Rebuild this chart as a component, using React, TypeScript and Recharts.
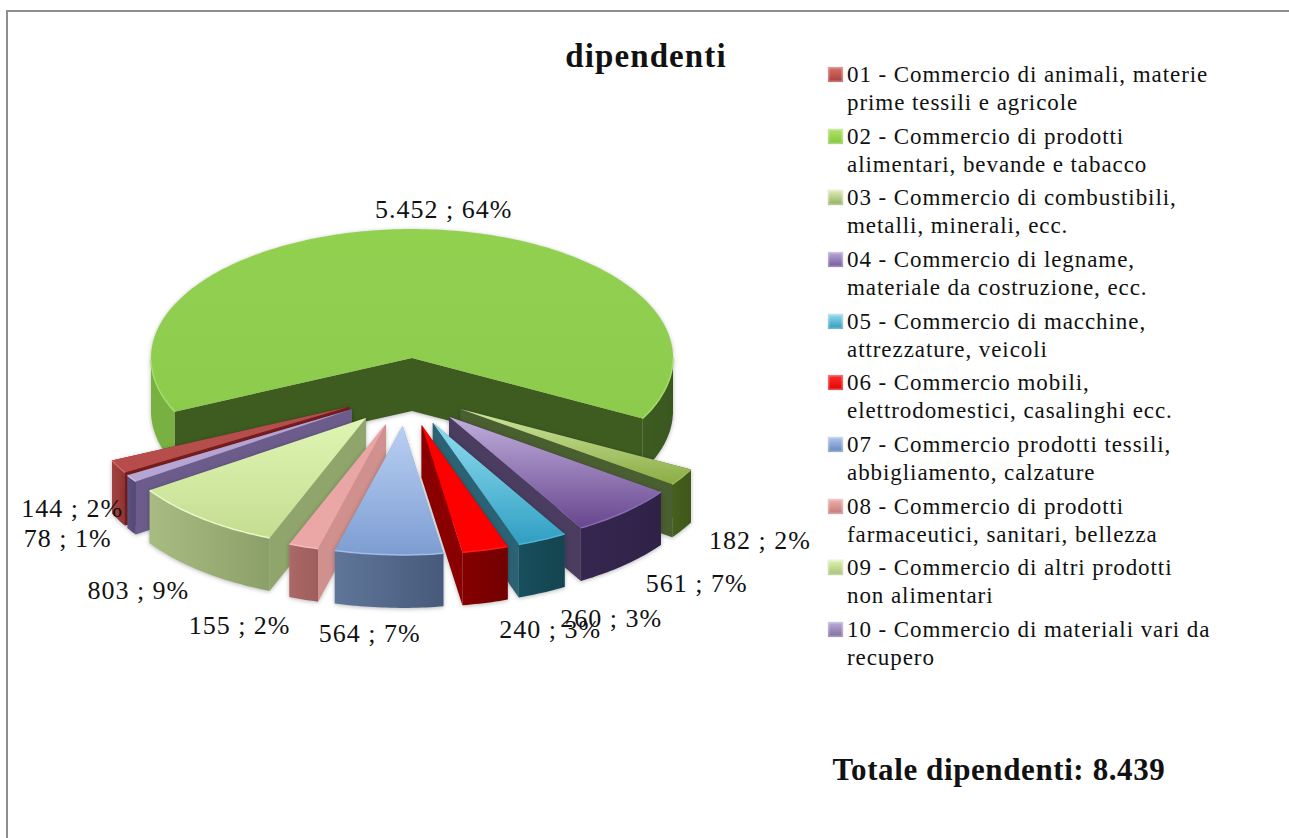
import React from 'react';
import { PieChart, Pie, Legend } from 'recharts';

// ---------- data ----------
const CODES = ['01', '02', '03', '04', '05', '06', '07', '08', '09', '10'];
const VALUES = [144, 5452, 182, 561, 260, 240, 564, 155, 803, 78];
const PERCENT_LABELS = [2, 64, 2, 7, 3, 3, 7, 2, 9, 1];
const LEGEND_LINES = [
  ['01 - Commercio di animali, materie', 'prime tessili e agricole'],
  ['02 - Commercio di prodotti', 'alimentari, bevande e tabacco'],
  ['03 - Commercio di combustibili,', 'metalli, minerali, ecc.'],
  ['04 - Commercio di legname,', 'materiale da costruzione, ecc.'],
  ['05 - Commercio di macchine,', 'attrezzature, veicoli'],
  ['06 - Commercio mobili,', 'elettrodomestici, casalinghi ecc.'],
  ['07 - Commercio prodotti tessili,', 'abbigliamento, calzature'],
  ['08 - Commercio di prodotti', 'farmaceutici, sanitari, bellezza'],
  ['09 - Commercio di altri prodotti', 'non alimentari'],
  ['10 - Commercio di materiali vari da', 'recupero'],
];
const TITLE = 'dipendenti';
const TOTAL_TEXT = 'Totale dipendenti: 8.439';

// ---------- styling ----------
type Look = { top: [string, string]; wall: [string, string]; face: string; rim: string; swatch: [string, string] };
const LOOKS: Record<string, Look> = {
  '01': { top: ['#b0504e', '#b84c4a'], wall: ['#a34341', '#8e3432'], face: '#7a1e1c', rim: '#c96a68', swatch: ['#d9706c', '#a83f3c'] },
  '02': { top: ['#92d050', '#8dcb4d'], wall: ['#3d5c20', '#3a5720'], face: '#3e5c20', rim: '#a6dd6a', swatch: ['#b0e468', '#84c53d'] },
  '03': { top: ['#cfe6a0', '#8aac44'], wall: ['#46601f', '#3f5719'], face: '#4a5f30', rim: '#9dbd5a', swatch: ['#dfeebc', '#93ae5e'] },
  '04': { top: ['#c0aedb', '#67468f'], wall: ['#35264f', '#2f2247'], face: '#4a3d60', rim: '#8a6cb3', swatch: ['#bca8d8', '#73589a'] },
  '05': { top: ['#92dcf0', '#2f9fc2'], wall: ['#184f5e', '#14444f'], face: '#2c6374', rim: '#4fb4d2', swatch: ['#96dcf0', '#3098b8'] },
  '06': { top: ['#ff0000', '#ff0000'], wall: ['#850000', '#730000'], face: '#8a0000', rim: '#ff1a1a', swatch: ['#ff3030', '#e00000'] },
  '07': { top: ['#b9d0f3', '#7d9dd2'], wall: ['#5f7699', '#475a7b'], face: '#8299c2', rim: '#a4bde6', swatch: ['#aec7ec', '#6487bd'] },
  '08': { top: ['#e8a5a3', '#eaa7a5'], wall: ['#ab6866', '#9c5e5c'], face: '#cf908e', rim: '#f4bcba', swatch: ['#efb0ae', '#c47876'] },
  '09': { top: ['#dff5b4', '#c4dd90'], wall: ['#a8bc82', '#8b9f68'], face: '#8fa56c', rim: '#e8f8c8', swatch: ['#dff3b6', '#a6c072'] },
  '10': { top: ['#b3a2cf', '#b7a6d3'], wall: ['#5e5080', '#544873'], face: '#6b5c8c', rim: '#cbbde0', swatch: ['#bcabd8', '#7f6e9e'] },
};

const FONT = '"Liberation Serif", serif';
const START_ANGLE = 204.6;      // where the big slice begins
const SQUASH = 0.494;           // vertical flattening of the disc
const DEPTH = 53;               // thickness of the extruded disc
const UNEXPLODED = '02';
// pull-out of a slice, as a function of the direction of its bisector
const pull = (mid: number) => {
  const c = Math.cos(rad(mid));
  const s = Math.abs(Math.sin(rad(mid)));
  return { dx: -6 + 64 * c, dy: 32 + 36 * s };
};
// hand-placed data label displacement from the middle of each slice's arc
const LABEL_NUDGE: Record<string, [number, number]> = {
  '01': [-46, 42], '02': [24, -20], '03': [78, 63], '04': [72, 71], '05': [69, 79],
  '06': [65, 80], '07': [-19, 79], '08': [-64, 79], '09': [-64, 72], '10': [-64, 60],
};

function rad(d: number) { return (d * Math.PI) / 180; }

const rows = CODES.map((code, i) => ({ code, name: LEGEND_LINES[i].join(' '), value: VALUES[i], pct: PERCENT_LABELS[i] }));
// painter's order: back slice and right side clockwise, then left side counter-clockwise up to the front
const clockwiseRows = [...rows.slice(1), rows[0]];
const counterRows = [rows[0], ...rows.slice(1).reverse()];
const RIGHT_LAYER = ['02', '03', '04', '05', '06'];
const LEFT_LAYER = ['01', '10', '09', '08', '07'];

const formatThousands = (v: number) => String(v).replace(/\B(?=(\d{3})+$)/g, '.');

function apexOf(p: any) {
  const mid = (p.startAngle + p.endAngle) / 2;
  const code = p.payload?.code ?? p.code;
  const off = code === UNEXPLODED ? { dx: 0, dy: 0 } : pull(mid);
  return { x: p.cx + off.dx, y: p.cy + off.dy };
}

const pts = (list: { x: number; y: number }[]) =>
  list.map((q, i) => `${i ? 'L' : 'M'}${q.x.toFixed(1)} ${q.y.toFixed(1)}`).join(' ');

function Slice3D(props: any, layer: string[]) {
  const code: string = props.payload?.code ?? props.code;
  if (!layer.includes(code)) return <g />;
  const look = LOOKS[code];
  const rx: number = props.outerRadius;
  const ry = rx * SQUASH;
  const apex = apexOf(props);
  const at = (a: number) => ({ x: apex.x + rx * Math.cos(rad(a)), y: apex.y - ry * Math.sin(rad(a)) });
  const down = (q: { x: number; y: number }) => ({ x: q.x, y: q.y + DEPTH });

  const a0: number = props.startAngle;
  const a1: number = props.endAngle;
  const n = Math.max(2, Math.ceil(Math.abs(a1 - a0)));
  const angles = Array.from({ length: n + 1 }, (_, i) => a0 + ((a1 - a0) * i) / n);
  const arc = angles.map(at);

  // radial side walls: the one whose top face lies above it is visible, the other one is drawn first
  const faceFor = (edge: { x: number; y: number }, other: { x: number; y: number }) => {
    const cross = (edge.x - apex.x) * (other.y - apex.y) - (edge.y - apex.y) * (other.x - apex.x);
    const above = edge.x > apex.x ? cross < 0 : cross > 0;
    return { q: [apex, edge, down(edge), down(apex)], above };
  };
  const faces = [faceFor(arc[0], arc[n]), faceFor(arc[n], arc[0])].sort((p, q) => Number(p.above) - Number(q.above));

  // outer wall: contiguous runs of the arc on the viewer's side
  const runs: number[][] = [];
  let cur: number[] = [];
  angles.forEach((a) => {
    if (Math.sin(rad(a)) <= 0.0001) cur.push(a);
    else if (cur.length) { runs.push(cur); cur = []; }
  });
  if (cur.length) runs.push(cur);

  const leftWall = code === UNEXPLODED;
  return (
    <g style={{ filter: 'drop-shadow(0 1px 2px rgba(0,0,0,0.28))' }}>
      <defs>
        <linearGradient id={`top-${code}-${layer[0]}`} x1="0" y1="0" x2="0" y2="1">
          <stop offset="0" stopColor={look.top[0]} />
          <stop offset="1" stopColor={look.top[1]} />
        </linearGradient>
        <linearGradient id={`wall-${code}-${layer[0]}`} x1="0" y1="0" x2="1" y2="0">
          <stop offset="0" stopColor={look.wall[0]} />
          <stop offset="1" stopColor={look.wall[1]} />
        </linearGradient>
      </defs>
      {faces.map((f, i) => (
        <path key={i} d={`${pts(f.q)} Z`} fill={look.face} />
      ))}
      {runs.map((run, i) => {
        const rim = run.map(at);
        const isLeft = leftWall && Math.cos(rad(run[0])) < 0;
        return (
          <path
            key={i}
            d={`${pts([...rim, ...rim.map(down).reverse()])} Z`}
            fill={isLeft ? '#78b041' : `url(#wall-${code}-${layer[0]})`}
          />
        );
      })}
      <path d={`M${apex.x} ${apex.y} ${pts(arc).replace('M', 'L')} Z`} fill={`url(#top-${code}-${layer[0]})`} />
      {runs.map((run, i) => (
        <path key={i} d={pts(run.map(at))} fill="none" stroke={look.rim} strokeWidth={1.5} />
      ))}
    </g>
  );
}

const rightShape = (p: any) => Slice3D(p, RIGHT_LAYER);
const leftShape = (p: any) => Slice3D(p, LEFT_LAYER);

function DataLabel(p: any) {
  const code: string = p.payload?.code ?? p.code;
  const rx: number = p.outerRadius;
  const ry = rx * SQUASH;
  const apex = apexOf(p);
  const mid = (p.startAngle + p.endAngle) / 2;
  const [nx, ny] = LABEL_NUDGE[code];
  const x = apex.x + rx * Math.cos(rad(mid)) + nx;
  const y = apex.y - ry * Math.sin(rad(mid)) + ny;
  const pct = p.payload?.pct ?? p.pct;
  return (
    <text x={x} y={y} textAnchor="middle" dominantBaseline="central" fill="#111" fontFamily={FONT} fontSize={26} letterSpacing={1}>
      {`${formatThousands(p.value)} ; ${pct}%`}
    </text>
  );
}

function LegendBox() {
  return (
    <div style={{ fontFamily: FONT, fontSize: 23, lineHeight: '28px', color: '#111', letterSpacing: 0.93 }}>
      {CODES.map((code, i) => (
        <div key={code} style={{ position: 'relative', height: 61.67, paddingLeft: 19, whiteSpace: 'nowrap' }}>
          <span
            style={{
              position: 'absolute', left: 0, top: 6, width: 15, height: 15,
              background: `linear-gradient(${LOOKS[code].swatch[0]}, ${LOOKS[code].swatch[1]})`,
              boxShadow: 'inset 0 0 0 1.5px rgba(255,255,255,0.3), 0 0 1px rgba(0,0,0,0.25)',
            }}
          />
          <div>{LEGEND_LINES[i][0]}</div>
          <div>{LEGEND_LINES[i][1]}</div>
        </div>
      ))}
    </div>
  );
}

export default function App() {
  return (
    <div style={{ position: 'absolute', left: 0, top: 0, width: 1289, height: 838, overflow: 'hidden', background: '#fff' }}>
      <div style={{ position: 'absolute', left: 6, top: 10, width: 1400, height: 1000, borderTop: '2px solid #8e8e8e', borderLeft: '2px solid #8e8e8e' }} />
      <div style={{ position: 'absolute', left: 0, top: 0 }}>
        <PieChart width={1289} height={838} margin={{ top: 0, right: 0, bottom: 0, left: 0 }}>
          <text x={646} y={56} textAnchor="middle" dominantBaseline="central" fontFamily={FONT} fontWeight="bold" fontSize={33} letterSpacing={1.1} fill="#111">
            {TITLE}
          </text>
          <text x={999} y={769} textAnchor="middle" dominantBaseline="central" fontFamily={FONT} fontWeight="bold" fontSize={31} letterSpacing={0.6} fill="#111">
            {TOTAL_TEXT}
          </text>
          <Pie
            data={clockwiseRows}
            dataKey="value"
            nameKey="name"
            cx={412}
            cy={358}
            innerRadius={0}
            outerRadius={261}
            startAngle={START_ANGLE}
            endAngle={START_ANGLE - 360}
            stroke="none"
            shape={rightShape}
            inactiveShape={rightShape}
            activeShape={rightShape}
            isAnimationActive={false}
            legendType="none"
          />
          <Pie
            data={counterRows}
            dataKey="value"
            nameKey="name"
            cx={412}
            cy={358}
            innerRadius={0}
            outerRadius={261}
            startAngle={START_ANGLE}
            endAngle={START_ANGLE + 360}
            stroke="none"
            shape={leftShape}
            inactiveShape={leftShape}
            activeShape={leftShape}
            label={DataLabel}
            labelLine={false}
            isAnimationActive={false}
            legendType="none"
          />
          <Legend
            layout="vertical"
            align="right"
            verticalAlign="top"
            content={LegendBox}
            wrapperStyle={{ left: 828, top: 61, width: 440, height: 620 }}
          />
        </PieChart>
      </div>
    </div>
  );
}
